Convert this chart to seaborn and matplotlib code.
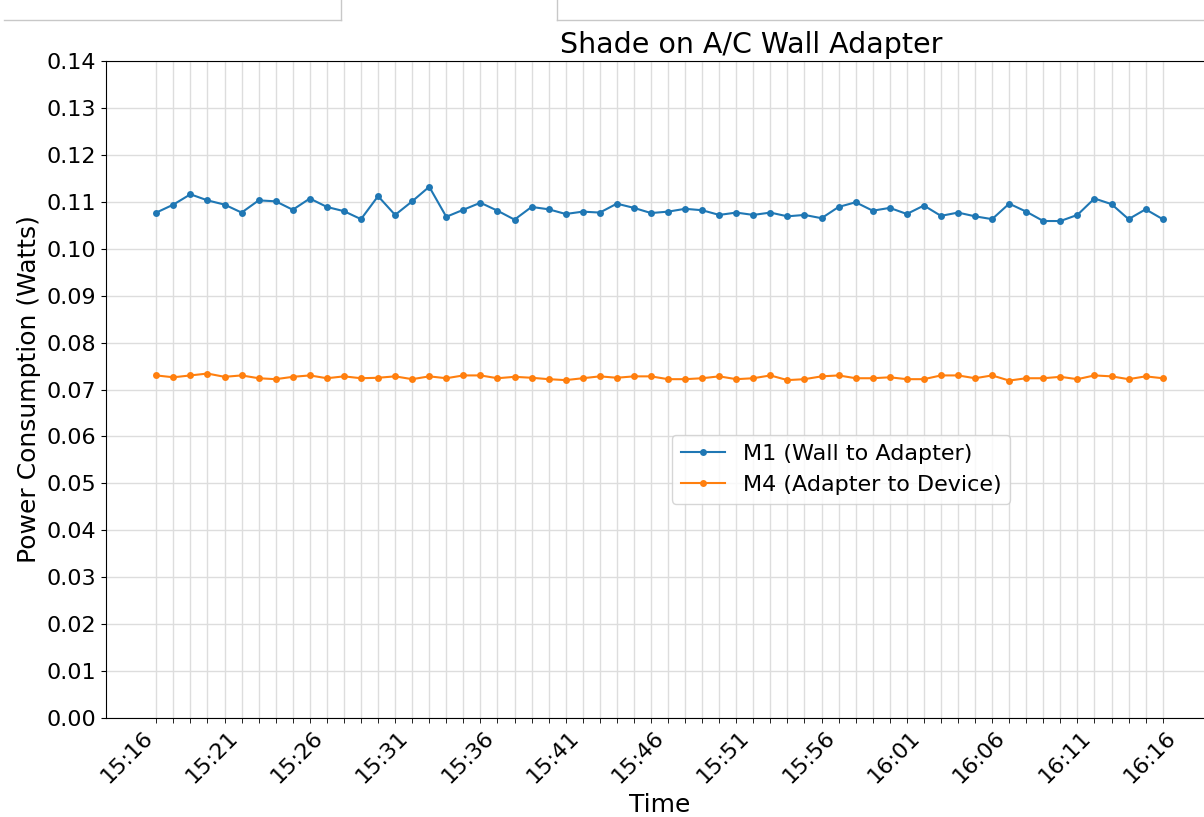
import pandas as pd
import seaborn as sns
import matplotlib

matplotlib.use("Agg")
import matplotlib.pyplot as plt
import matplotlib.dates as mdates
from matplotlib.lines import Line2D
from matplotlib.ticker import FixedLocator

# one reading per minute, 15:16 .. 16:15
TIMES = [
    "15:16", "15:17", "15:18", "15:19", "15:20", "15:21", "15:22", "15:23", "15:24", "15:25",
    "15:26", "15:27", "15:28", "15:29", "15:30", "15:31", "15:32", "15:33", "15:34", "15:35",
    "15:36", "15:37", "15:38", "15:39", "15:40", "15:41", "15:42", "15:43", "15:44", "15:45",
    "15:46", "15:47", "15:48", "15:49", "15:50", "15:51", "15:52", "15:53", "15:54", "15:55",
    "15:56", "15:57", "15:58", "15:59", "16:00", "16:01", "16:02", "16:03", "16:04", "16:05",
    "16:06", "16:07", "16:08", "16:09", "16:10", "16:11", "16:12", "16:13", "16:14", "16:15",
]

M1_WATTS = [
    0.1077, 0.1094, 0.1116, 0.1103, 0.1094, 0.1077, 0.1103, 0.1101, 0.1083, 0.1107,
    0.1089, 0.1080, 0.1063, 0.1112, 0.1072, 0.1101, 0.1132, 0.1068, 0.1083, 0.1098,
    0.1081, 0.1062, 0.1089, 0.1084, 0.1074, 0.1079, 0.1077, 0.1096, 0.1087, 0.1076,
    0.1079, 0.1085, 0.1082, 0.1072, 0.1077, 0.1072, 0.1077, 0.1069, 0.1072, 0.1065,
    0.1089, 0.1099, 0.1081, 0.1087, 0.1074, 0.1092, 0.1070, 0.1077, 0.1069, 0.1063,
    0.1096, 0.1079, 0.1059, 0.1059, 0.1072, 0.1107, 0.1095, 0.1063, 0.1084, 0.1063,
]

M4_WATTS = [
    0.0730, 0.0726, 0.0730, 0.0734, 0.0727, 0.0730, 0.0724, 0.0722, 0.0727, 0.0730,
    0.0724, 0.0728, 0.0724, 0.0725, 0.0728, 0.0722, 0.0728, 0.0724, 0.0730, 0.0730,
    0.0724, 0.0727, 0.0725, 0.0722, 0.0720, 0.0724, 0.0728, 0.0725, 0.0728, 0.0728,
    0.0722, 0.0722, 0.0724, 0.0728, 0.0722, 0.0724, 0.0730, 0.0720, 0.0722, 0.0728,
    0.0730, 0.0724, 0.0724, 0.0726, 0.0722, 0.0722, 0.0730, 0.0730, 0.0724, 0.0730,
    0.0719, 0.0724, 0.0724, 0.0727, 0.0722, 0.0730, 0.0728, 0.0722, 0.0728, 0.0724,
]

SERIES = {
    "M1 (Wall to Adapter)": M1_WATTS,
    "M4 (Adapter to Device)": M4_WATTS,
}
Y_TICKS = [0.00, 0.01, 0.02, 0.03, 0.04, 0.05, 0.06, 0.07, 0.08, 0.09, 0.10, 0.11, 0.12, 0.13, 0.14]

W, H = 1204, 817


def px_to_fig(x, y):
    return x / W, 1 - y / H


def main() -> None:
    df = pd.DataFrame({"time": pd.to_datetime(TIMES, format="%H:%M"), **SERIES})
    long_df = df.melt(id_vars="time", var_name="meter", value_name="watts")

    fig = plt.figure(figsize=(W / 100, H / 100), dpi=100)
    # axes right edge runs past the canvas, like the cropped original
    ax = fig.add_axes([106 / W, (H - 718) / H, (1213 - 106) / W, (718 - 61) / H])

    for color, name in zip(["tab:blue", "tab:orange"], SERIES):
        sns.lineplot(
            data=long_df[long_df["meter"] == name],
            x="time",
            y="watts",
            color=color,
            marker="o",
            markersize=5,
            markeredgewidth=0,
            linewidth=1.5,
            label=name,
            ax=ax,
        )

    # labels every 5 minutes, tick marks + grid at every sample
    ax.xaxis.remove_overlapping_locs = False
    ax.xaxis.set_major_locator(mdates.MinuteLocator(byminute=range(1, 60, 5)))
    ax.xaxis.set_major_formatter(mdates.DateFormatter("%H:%M"))
    ax.xaxis.set_minor_locator(FixedLocator(mdates.date2num(df["time"])))
    ax.tick_params(axis="x", which="major", length=0, labelsize=16, pad=7)
    ax.tick_params(axis="x", which="minor", length=3.5)
    plt.setp(ax.get_xticklabels(), rotation=45, ha="right")

    ax.set_yticks(Y_TICKS)
    ax.set_yticklabels([f"{v:.2f}" for v in Y_TICKS], fontsize=16)
    ax.set_ylim(0, 0.14)
    ax.grid(False)
    ax.grid(True, axis="x", which="minor", color="#dddddd", linewidth=1.0)
    ax.grid(True, axis="y", which="major", color="#dddddd", linewidth=1.0)
    ax.set_axisbelow(True)

    ax.set_xlabel("Time", fontsize=18)
    ax.set_ylabel("Power Consumption (Watts)", fontsize=18)
    ax.set_title("Shade on A/C Wall Adapter", fontsize=20.5, x=0.583)
    ax.legend(
        loc="upper left",
        bbox_to_anchor=(0.511, 0.431),
        borderaxespad=0,
        fontsize=16,
        framealpha=0.8,
    )

    # thin screenshot edges along the top of the capture
    for xs, ys in [((4, 341), (20, 20)), ((341, 341), (0, 20)), ((557, 1204), (20, 20)), ((557, 557), (0, 20))]:
        p0 = px_to_fig(xs[0], ys[0])
        p1 = px_to_fig(xs[1], ys[1])
        fig.add_artist(
            Line2D([p0[0], p1[0]], [p0[1], p1[1]], transform=fig.transFigure, color="#c8c8c8", linewidth=1.0)
        )

    fig.savefig("out.png", dpi=100)
    plt.close(fig)


if __name__ == "__main__":
    main()
